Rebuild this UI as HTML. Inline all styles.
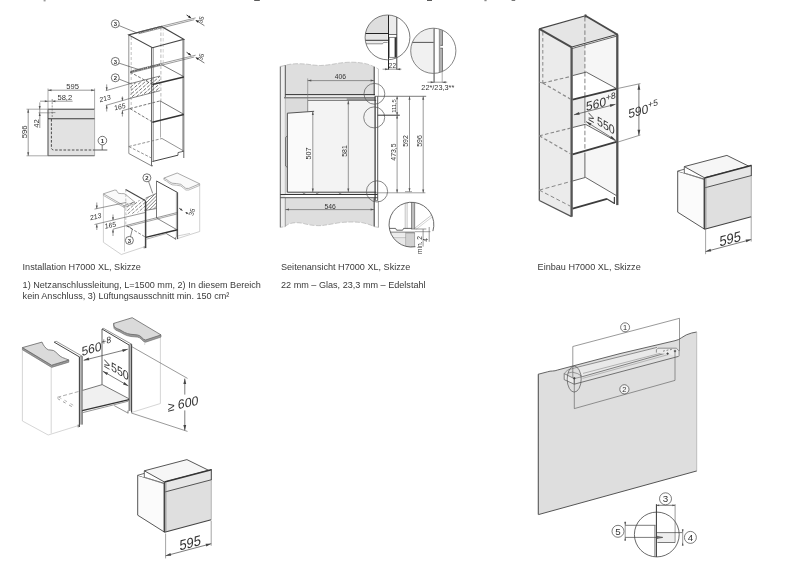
<!DOCTYPE html>
<html><head><meta charset="utf-8"><title>H7000 XL</title>
<style>
html,body{margin:0;padding:0;background:#fff;}
body{width:787px;height:563px;overflow:hidden;font-family:"Liberation Sans",sans-serif;}
svg{display:block;position:absolute;left:0;top:0;will-change:transform;opacity:0.999;}
svg text{font-family:"Liberation Sans",sans-serif;}
.cap{position:absolute;font-family:"Liberation Sans",sans-serif;font-size:9.1px;color:#3a3a3a;white-space:nowrap;line-height:11px;letter-spacing:0px;}
</style></head><body>
<svg width="787" height="563" viewBox="0 0 787 563">

<rect x="43.6" y="0" width="2" height="1.4" fill="#999"/>
<rect x="254.2" y="0" width="5.6" height="0.8" fill="#333"/>
<rect x="427" y="0" width="5" height="0.8" fill="#333"/>
<rect x="484.4" y="0" width="2.2" height="1.2" fill="#888"/>
<rect x="511.6" y="0" width="3.6" height="0.8" fill="#555"/>
<g id="d1">
<rect x="48" y="109.2" width="46.6" height="46.6" fill="#e2e2e2" stroke="none"/>
<line x1="48" y1="109.2" x2="94.6" y2="109.2" stroke="#3a3a3a" stroke-width="1" stroke-linecap="butt"/>
<line x1="48" y1="109.2" x2="48" y2="155.8" stroke="#666" stroke-width="1.2" stroke-linecap="butt"/>
<line x1="94.6" y1="109.2" x2="94.6" y2="155.8" stroke="#999" stroke-width="0.7" stroke-linecap="butt"/>
<line x1="48" y1="155.8" x2="94.6" y2="155.8" stroke="#666" stroke-width="1.1" stroke-linecap="butt"/>
<line x1="48" y1="118.8" x2="94.6" y2="118.8" stroke="#3a3a3a" stroke-width="1.1" stroke-linecap="butt"/>
<path d="M51.4 119 V147.5 Q51.4 150 54 150 H94.6" fill="none" stroke="#3a3a3a" stroke-width="0.9" stroke-dasharray="2.6 1.6" />
<line x1="94.6" y1="150" x2="107.3" y2="150" stroke="#3a3a3a" stroke-width="0.8" stroke-linecap="butt"/>
<line x1="102.2" y1="144.4" x2="102.2" y2="150" stroke="#3a3a3a" stroke-width="0.7" stroke-linecap="butt"/>
<circle cx="102.4" cy="140.6" r="4.3" fill="#fff" stroke="#3a3a3a" stroke-width="0.7"/>
<text transform="translate(102.4,142.832)" font-size="6.2" text-anchor="middle" fill="#333" font-weight="bold" >1</text>
<line x1="48" y1="88.5" x2="48" y2="109" stroke="#555" stroke-width="0.5" stroke-linecap="butt"/>
<line x1="94.6" y1="88.5" x2="94.6" y2="109" stroke="#555" stroke-width="0.5" stroke-linecap="butt"/>
<line x1="48" y1="90.2" x2="94.6" y2="90.2" stroke="#555" stroke-width="0.6" stroke-linecap="butt"/>
<polygon points="94.6,90.2 91.1,91.2 91.1,89.2" fill="#555" stroke="none"/>
<polygon points="48,90.2 51.5,89.2 51.5,91.2" fill="#555" stroke="none"/>
<text transform="translate(72.6,88.9)" font-size="7.6" text-anchor="middle" fill="#333" font-weight="normal" >595</text>
<line x1="40" y1="101.2" x2="72.6" y2="101.2" stroke="#555" stroke-width="0.6" stroke-linecap="butt"/>
<polygon points="48,101.2 44.8,102.2 44.8,100.2" fill="#555" stroke="none"/>
<polygon points="52.2,101.2 55.4,100.2 55.4,102.2" fill="#555" stroke="none"/>
<text transform="translate(64.8,99.8)" font-size="7.6" text-anchor="middle" fill="#333" font-weight="normal" >58,2</text>
<line x1="52.2" y1="99" x2="52.2" y2="118" stroke="#555" stroke-width="0.6" stroke-dasharray="2 1.2" stroke-linecap="butt"/>
<line x1="50.4" y1="112.6" x2="55.4" y2="112.6" stroke="#555" stroke-width="0.6" stroke-linecap="butt"/>
<line x1="26.5" y1="109.2" x2="48" y2="109.2" stroke="#555" stroke-width="0.5" stroke-linecap="butt"/>
<line x1="26.5" y1="155.8" x2="48" y2="155.8" stroke="#555" stroke-width="0.5" stroke-linecap="butt"/>
<line x1="28.2" y1="109.2" x2="28.2" y2="155.8" stroke="#555" stroke-width="0.6" stroke-linecap="butt"/>
<polygon points="28.2,155.8 27.2,152.3 29.2,152.3" fill="#555" stroke="none"/>
<polygon points="28.2,109.2 29.2,112.7 27.2,112.7" fill="#555" stroke="none"/>
<text transform="translate(27.0,131.8) rotate(-90)" font-size="7.7" text-anchor="middle" fill="#333" font-weight="normal" >596</text>
<line x1="39.8" y1="102.4" x2="39.8" y2="128" stroke="#555" stroke-width="0.6" stroke-linecap="butt"/>
<polygon points="39.7,109.2 38.7,106.0 40.7,106.0" fill="#555" stroke="none"/>
<polygon points="39.7,112.8 40.7,116.0 38.7,116.0" fill="#555" stroke="none"/>
<line x1="38.5" y1="112.8" x2="50" y2="112.8" stroke="#555" stroke-width="0.5" stroke-linecap="butt"/>
<text transform="translate(38.8,123.5) rotate(-90)" font-size="7.7" text-anchor="middle" fill="#333" font-weight="normal" >42</text>
<line x1="128.8" y1="35" x2="128.8" y2="153.5" stroke="#777" stroke-width="0.8" stroke-linecap="butt"/>
<line x1="131.2" y1="37" x2="131.2" y2="108" stroke="#999" stroke-width="0.6" stroke-dasharray="3 2" stroke-linecap="butt"/>
<line x1="151.5" y1="47.5" x2="151.5" y2="166" stroke="#444" stroke-width="0.8" stroke-linecap="butt"/>
<line x1="153.20000000000002" y1="47.5" x2="153.20000000000002" y2="161.5" stroke="#555" stroke-width="0.7" stroke-linecap="butt"/>
<line x1="160.9" y1="27" x2="160.9" y2="101" stroke="#777" stroke-width="0.5" stroke-dasharray="3.5 2" stroke-linecap="butt"/>
<line x1="160.5" y1="101" x2="160.5" y2="137.6" stroke="#777" stroke-width="0.6" stroke-linecap="butt"/>
<line x1="163.2" y1="27" x2="163.2" y2="64" stroke="#aaa" stroke-width="0.5" stroke-dasharray="3.5 2" stroke-linecap="butt"/>
<line x1="183.8" y1="39.2" x2="183.8" y2="158" stroke="#555" stroke-width="0.9" stroke-linecap="butt"/>
<line x1="182.5" y1="40" x2="182.5" y2="152" stroke="#888" stroke-width="0.6" stroke-linecap="butt"/>
<polygon points="128.8,34.9 161.4,26.4 183.8,39.2 152.4,47.7" fill="none" stroke="#444" stroke-width="1.1" stroke-linejoin="miter"/>
<line x1="138.4" y1="32.0" x2="195.6" y2="17.9" stroke="#555" stroke-width="0.6" stroke-linecap="butt"/>
<line x1="138.4" y1="33.8" x2="194.3" y2="19.7" stroke="#555" stroke-width="0.6" stroke-linecap="butt"/>
<line x1="186.6" y1="15.0" x2="190.4" y2="17.6" stroke="#333" stroke-width="1.0" stroke-linecap="butt"/>
<polygon points="191.4,18.3 188.13,17.42 189.36,15.6" fill="#222" stroke="none"/>
<line x1="196.4" y1="20.6" x2="204.4" y2="25.7" stroke="#444" stroke-width="0.7" stroke-linecap="butt"/>
<polygon points="195.4,20.0 198.68,20.82 197.48,22.67" fill="#222" stroke="none"/>
<text transform="translate(203.2,20.2) rotate(-76)" font-size="6.2" text-anchor="middle" fill="#333" font-weight="normal" >35</text>
<line x1="130.2" y1="71.2" x2="195.6" y2="55.199999999999996" stroke="#555" stroke-width="0.6" stroke-linecap="butt"/>
<line x1="130.2" y1="73.0" x2="194.3" y2="57.0" stroke="#555" stroke-width="0.6" stroke-linecap="butt"/>
<line x1="186.6" y1="52.3" x2="190.4" y2="54.9" stroke="#333" stroke-width="1.0" stroke-linecap="butt"/>
<polygon points="191.4,55.6 188.13,54.72 189.36,52.9" fill="#222" stroke="none"/>
<line x1="196.4" y1="57.9" x2="204.4" y2="63.0" stroke="#444" stroke-width="0.7" stroke-linecap="butt"/>
<polygon points="195.4,57.3 198.68,58.12 197.48,59.97" fill="#222" stroke="none"/>
<text transform="translate(203.2,57.5) rotate(-76)" font-size="6.2" text-anchor="middle" fill="#333" font-weight="normal" >35</text>
<path d="M131 71.9 L160.9 64.1" fill="none" stroke="#555" stroke-width="1.6" stroke-dasharray="1.2 1.0" />
<path d="M139 32.9 L161.4 27.0" fill="none" stroke="#666" stroke-width="1.3" stroke-dasharray="1.2 1.0" />
<line x1="130" y1="72.1" x2="152.4" y2="84.3" stroke="#666" stroke-width="0.9" stroke-dasharray="3 1.6" stroke-linecap="butt"/>
<line x1="130" y1="72.1" x2="161.4" y2="64.5" stroke="#666" stroke-width="0.9" stroke-dasharray="3 1.6" stroke-linecap="butt"/>
<line x1="161.4" y1="64.5" x2="183.8" y2="76.6" stroke="#555" stroke-width="0.8" stroke-linecap="butt"/>
<line x1="152.4" y1="84.6" x2="183.8" y2="76.9" stroke="#333" stroke-width="1.5" stroke-linecap="butt"/>
<clipPath id="h1"><polygon points="130,83.7 160.1,76 160.1,90.7 130,98.4"/></clipPath>
<g clip-path="url(#h1)">
<line x1="99" y1="100" x2="128.9" y2="74" stroke="#444" stroke-width="0.75" stroke-dasharray="3.4 1.4" stroke-linecap="butt"/>
<line x1="103.2" y1="100" x2="133.1" y2="74" stroke="#444" stroke-width="0.75" stroke-dasharray="3.4 1.4" stroke-linecap="butt"/>
<line x1="107.4" y1="100" x2="137.3" y2="74" stroke="#444" stroke-width="0.75" stroke-dasharray="3.4 1.4" stroke-linecap="butt"/>
<line x1="111.6" y1="100" x2="141.5" y2="74" stroke="#444" stroke-width="0.75" stroke-dasharray="3.4 1.4" stroke-linecap="butt"/>
<line x1="115.8" y1="100" x2="145.7" y2="74" stroke="#444" stroke-width="0.75" stroke-dasharray="3.4 1.4" stroke-linecap="butt"/>
<line x1="120.0" y1="100" x2="149.9" y2="74" stroke="#444" stroke-width="0.75" stroke-dasharray="3.4 1.4" stroke-linecap="butt"/>
<line x1="124.2" y1="100" x2="154.1" y2="74" stroke="#444" stroke-width="0.75" stroke-dasharray="3.4 1.4" stroke-linecap="butt"/>
<line x1="128.4" y1="100" x2="158.3" y2="74" stroke="#444" stroke-width="0.75" stroke-dasharray="3.4 1.4" stroke-linecap="butt"/>
<line x1="132.6" y1="100" x2="162.5" y2="74" stroke="#444" stroke-width="0.75" stroke-dasharray="3.4 1.4" stroke-linecap="butt"/>
<line x1="136.8" y1="100" x2="166.7" y2="74" stroke="#444" stroke-width="0.75" stroke-dasharray="3.4 1.4" stroke-linecap="butt"/>
<line x1="141.0" y1="100" x2="170.9" y2="74" stroke="#444" stroke-width="0.75" stroke-dasharray="3.4 1.4" stroke-linecap="butt"/>
<line x1="145.2" y1="100" x2="175.1" y2="74" stroke="#444" stroke-width="0.75" stroke-dasharray="3.4 1.4" stroke-linecap="butt"/>
<line x1="149.4" y1="100" x2="179.3" y2="74" stroke="#444" stroke-width="0.75" stroke-dasharray="3.4 1.4" stroke-linecap="butt"/>
<line x1="153.6" y1="100" x2="183.5" y2="74" stroke="#444" stroke-width="0.75" stroke-dasharray="3.4 1.4" stroke-linecap="butt"/>
<line x1="157.8" y1="100" x2="187.7" y2="74" stroke="#444" stroke-width="0.75" stroke-dasharray="3.4 1.4" stroke-linecap="butt"/>
<line x1="162.0" y1="100" x2="191.9" y2="74" stroke="#444" stroke-width="0.75" stroke-dasharray="3.4 1.4" stroke-linecap="butt"/>
<line x1="166.2" y1="100" x2="196.1" y2="74" stroke="#444" stroke-width="0.75" stroke-dasharray="3.4 1.4" stroke-linecap="butt"/>
<line x1="170.4" y1="100" x2="200.3" y2="74" stroke="#444" stroke-width="0.75" stroke-dasharray="3.4 1.4" stroke-linecap="butt"/>
<line x1="174.6" y1="100" x2="204.5" y2="74" stroke="#444" stroke-width="0.75" stroke-dasharray="3.4 1.4" stroke-linecap="butt"/>
<line x1="178.8" y1="100" x2="208.7" y2="74" stroke="#444" stroke-width="0.75" stroke-dasharray="3.4 1.4" stroke-linecap="butt"/>
<line x1="183.0" y1="100" x2="212.9" y2="74" stroke="#444" stroke-width="0.75" stroke-dasharray="3.4 1.4" stroke-linecap="butt"/>
<line x1="187.2" y1="100" x2="217.1" y2="74" stroke="#444" stroke-width="0.75" stroke-dasharray="3.4 1.4" stroke-linecap="butt"/>
</g>
<line x1="130" y1="83.7" x2="160.1" y2="76" stroke="#555" stroke-width="0.7" stroke-linecap="butt"/>
<line x1="130" y1="98.4" x2="160.1" y2="90.7" stroke="#555" stroke-width="0.7" stroke-linecap="butt"/>
<line x1="105.8" y1="90.7" x2="130" y2="83.7" stroke="#555" stroke-width="0.6" stroke-linecap="butt"/>
<line x1="105.8" y1="105.4" x2="130" y2="98.4" stroke="#555" stroke-width="0.6" stroke-linecap="butt"/>
<line x1="122" y1="110.8" x2="130" y2="108.6" stroke="#555" stroke-width="0.6" stroke-linecap="butt"/>
<line x1="106.7" y1="84.4" x2="106.7" y2="90.4" stroke="#555" stroke-width="0.6" stroke-linecap="butt"/>
<line x1="106.7" y1="105.2" x2="106.7" y2="111.5" stroke="#555" stroke-width="0.6" stroke-linecap="butt"/>
<polygon points="106.7,90.4 105.7,87.2 107.7,87.2" fill="#555" stroke="none"/>
<polygon points="106.7,105.2 107.7,108.4 105.7,108.4" fill="#555" stroke="none"/>
<text transform="translate(105.4,100.8) rotate(-14) skewX(-8)" font-size="6.9" text-anchor="middle" fill="#333" font-weight="normal" >213</text>
<line x1="122.4" y1="96.5" x2="122.4" y2="100.8" stroke="#555" stroke-width="0.6" stroke-linecap="butt"/>
<polygon points="122.4,100.8 121.4,97.8 123.4,97.8" fill="#555" stroke="none"/>
<line x1="122.4" y1="110.7" x2="122.4" y2="116.5" stroke="#555" stroke-width="0.6" stroke-linecap="butt"/>
<polygon points="122.4,110.7 123.4,113.7 121.4,113.7" fill="#555" stroke="none"/>
<text transform="translate(120.2,109.2) rotate(-14) skewX(-8)" font-size="6.9" text-anchor="middle" fill="#333" font-weight="normal" >165</text>
<line x1="130" y1="108.6" x2="160.1" y2="100.9" stroke="#666" stroke-width="0.9" stroke-dasharray="3 1.6" stroke-linecap="butt"/>
<line x1="130" y1="108.6" x2="152.4" y2="122" stroke="#666" stroke-width="0.9" stroke-dasharray="3 1.6" stroke-linecap="butt"/>
<line x1="160.1" y1="100.9" x2="183.8" y2="114.3" stroke="#555" stroke-width="0.8" stroke-linecap="butt"/>
<line x1="152.4" y1="122.3" x2="183.8" y2="114.6" stroke="#333" stroke-width="1.5" stroke-linecap="butt"/>
<line x1="128.8" y1="146.5" x2="162" y2="138.5" stroke="#777" stroke-width="0.8" stroke-dasharray="3 1.6" stroke-linecap="butt"/>
<line x1="128.8" y1="146.5" x2="152.4" y2="158.5" stroke="#777" stroke-width="0.8" stroke-dasharray="3 1.6" stroke-linecap="butt"/>
<line x1="162" y1="138.5" x2="183.8" y2="151" stroke="#666" stroke-width="0.7" stroke-linecap="butt"/>
<line x1="152.4" y1="161.5" x2="178" y2="155.2" stroke="#444" stroke-width="1.0" stroke-linecap="butt"/>
<line x1="178" y1="155.2" x2="178" y2="152.6" stroke="#444" stroke-width="0.8" stroke-linecap="butt"/>
<line x1="178" y1="152.6" x2="183.8" y2="151.2" stroke="#444" stroke-width="0.8" stroke-linecap="butt"/>
<line x1="128.8" y1="153.5" x2="151.8" y2="166" stroke="#666" stroke-width="0.8" stroke-linecap="butt"/>
<line x1="151.8" y1="166" x2="153.0" y2="165.6" stroke="#555" stroke-width="0.8" stroke-linecap="butt"/>
<line x1="118.6" y1="25.4" x2="137.1" y2="33" stroke="#3a3a3a" stroke-width="0.6" stroke-linecap="butt"/>
<circle cx="115.3" cy="23.8" r="4.0" fill="#fff" stroke="#3a3a3a" stroke-width="0.7"/>
<text transform="translate(115.3,25.924)" font-size="5.9" text-anchor="middle" fill="#333" font-weight="bold" >3</text>
<line x1="118.6" y1="63" x2="139.6" y2="69.8" stroke="#3a3a3a" stroke-width="0.6" stroke-linecap="butt"/>
<circle cx="115.3" cy="61.4" r="4.0" fill="#fff" stroke="#3a3a3a" stroke-width="0.7"/>
<text transform="translate(115.3,63.524)" font-size="5.9" text-anchor="middle" fill="#333" font-weight="bold" >3</text>
<line x1="118.8" y1="79" x2="130" y2="83.4" stroke="#3a3a3a" stroke-width="0.6" stroke-linecap="butt"/>
<circle cx="115.3" cy="77.8" r="4.0" fill="#fff" stroke="#3a3a3a" stroke-width="0.7"/>
<text transform="translate(115.3,79.92399999999999)" font-size="5.9" text-anchor="middle" fill="#333" font-weight="bold" >2</text>
<path d="M103.4 195.5 V242.3 L121.3 254.5 L145 246.6" fill="none" stroke="#bdbdbd" stroke-width="0.7" />
<line x1="124.5" y1="206" x2="124.5" y2="251.5" stroke="#bdbdbd" stroke-width="0.7" stroke-linecap="butt"/>
<path d="M103.4 193.8 L114.6 190.1 Q117 189.6 117.2 191.6 Q117.6 194 121.3 193.6 Q124.6 193.2 125.8 194.6 L134.8 202.1 L123.9 205.7 Z" fill="#fafafa" stroke="#888" stroke-width="0.7" />
<path d="M103.4 193.8 V195.4 L123.9 207.3 L134.8 203.7 V202.1" fill="none" stroke="#888" stroke-width="0.6" />
<line x1="123.9" y1="205.7" x2="123.9" y2="207.3" stroke="#666" stroke-width="0.6" stroke-linecap="butt"/>
<path d="M199.7 185.4 V231.5 L175.3 239.3" fill="none" stroke="#bdbdbd" stroke-width="0.7" />
<line x1="177.6" y1="236" x2="190" y2="233.4" stroke="#bdbdbd" stroke-width="0.7" stroke-linecap="butt"/>
<path d="M163.9 178.1 L177.2 173 L199.7 183.8 L188.8 188.4 Q185.6 189.4 183.6 186.6 Q181.6 183.6 176.6 183.6 Q171.2 183.8 169.2 181.6 Q167 179.4 163.9 178.1 Z" fill="#fafafa" stroke="#888" stroke-width="0.7" />
<path d="M163.9 178.1 V179.7 Q167 181 169.2 183.2 Q171.2 185.4 176.6 185.2 Q181.6 185.2 183.6 188.2 Q185.6 191 188.8 190 L199.7 185.4 V183.8" fill="none" stroke="#888" stroke-width="0.6" />
<clipPath id="h2"><polygon points="126.4,203.4 145.6,198.6 145.6,210.4 126.4,215.2"/></clipPath>
<g clip-path="url(#h2)">
<line x1="99" y1="217" x2="123.15" y2="196" stroke="#555" stroke-width="0.7" stroke-dasharray="3.4 1.4" stroke-linecap="butt"/>
<line x1="103.2" y1="217" x2="127.35" y2="196" stroke="#555" stroke-width="0.7" stroke-dasharray="3.4 1.4" stroke-linecap="butt"/>
<line x1="107.4" y1="217" x2="131.55" y2="196" stroke="#555" stroke-width="0.7" stroke-dasharray="3.4 1.4" stroke-linecap="butt"/>
<line x1="111.6" y1="217" x2="135.75" y2="196" stroke="#555" stroke-width="0.7" stroke-dasharray="3.4 1.4" stroke-linecap="butt"/>
<line x1="115.8" y1="217" x2="139.95" y2="196" stroke="#555" stroke-width="0.7" stroke-dasharray="3.4 1.4" stroke-linecap="butt"/>
<line x1="120.0" y1="217" x2="144.15" y2="196" stroke="#555" stroke-width="0.7" stroke-dasharray="3.4 1.4" stroke-linecap="butt"/>
<line x1="124.2" y1="217" x2="148.35" y2="196" stroke="#555" stroke-width="0.7" stroke-dasharray="3.4 1.4" stroke-linecap="butt"/>
<line x1="128.4" y1="217" x2="152.55" y2="196" stroke="#555" stroke-width="0.7" stroke-dasharray="3.4 1.4" stroke-linecap="butt"/>
<line x1="132.6" y1="217" x2="156.75" y2="196" stroke="#555" stroke-width="0.7" stroke-dasharray="3.4 1.4" stroke-linecap="butt"/>
<line x1="136.8" y1="217" x2="160.95" y2="196" stroke="#555" stroke-width="0.7" stroke-dasharray="3.4 1.4" stroke-linecap="butt"/>
<line x1="141.0" y1="217" x2="165.15" y2="196" stroke="#555" stroke-width="0.7" stroke-dasharray="3.4 1.4" stroke-linecap="butt"/>
<line x1="145.2" y1="217" x2="169.35" y2="196" stroke="#555" stroke-width="0.7" stroke-dasharray="3.4 1.4" stroke-linecap="butt"/>
<line x1="149.4" y1="217" x2="173.55" y2="196" stroke="#555" stroke-width="0.7" stroke-dasharray="3.4 1.4" stroke-linecap="butt"/>
<line x1="153.6" y1="217" x2="177.75" y2="196" stroke="#555" stroke-width="0.7" stroke-dasharray="3.4 1.4" stroke-linecap="butt"/>
<line x1="157.8" y1="217" x2="181.95" y2="196" stroke="#555" stroke-width="0.7" stroke-dasharray="3.4 1.4" stroke-linecap="butt"/>
<line x1="162.0" y1="217" x2="186.15" y2="196" stroke="#555" stroke-width="0.7" stroke-dasharray="3.4 1.4" stroke-linecap="butt"/>
<line x1="166.2" y1="217" x2="190.35" y2="196" stroke="#555" stroke-width="0.7" stroke-dasharray="3.4 1.4" stroke-linecap="butt"/>
<line x1="170.4" y1="217" x2="194.55" y2="196" stroke="#555" stroke-width="0.7" stroke-dasharray="3.4 1.4" stroke-linecap="butt"/>
</g>
<clipPath id="h3"><polygon points="145.6,198.2 156.5,193.4 156.5,208.5 145.6,210.4"/></clipPath>
<g clip-path="url(#h3)">
<line x1="120" y1="212" x2="140.0" y2="192" stroke="#444" stroke-width="0.65" stroke-linecap="butt"/>
<line x1="123.4" y1="212" x2="143.4" y2="192" stroke="#444" stroke-width="0.65" stroke-linecap="butt"/>
<line x1="126.8" y1="212" x2="146.8" y2="192" stroke="#444" stroke-width="0.65" stroke-linecap="butt"/>
<line x1="130.2" y1="212" x2="150.2" y2="192" stroke="#444" stroke-width="0.65" stroke-linecap="butt"/>
<line x1="133.6" y1="212" x2="153.6" y2="192" stroke="#444" stroke-width="0.65" stroke-linecap="butt"/>
<line x1="137.0" y1="212" x2="157.0" y2="192" stroke="#444" stroke-width="0.65" stroke-linecap="butt"/>
<line x1="140.4" y1="212" x2="160.4" y2="192" stroke="#444" stroke-width="0.65" stroke-linecap="butt"/>
<line x1="143.8" y1="212" x2="163.8" y2="192" stroke="#444" stroke-width="0.65" stroke-linecap="butt"/>
<line x1="147.2" y1="212" x2="167.2" y2="192" stroke="#444" stroke-width="0.65" stroke-linecap="butt"/>
<line x1="150.6" y1="212" x2="170.6" y2="192" stroke="#444" stroke-width="0.65" stroke-linecap="butt"/>
<line x1="154.0" y1="212" x2="174.0" y2="192" stroke="#444" stroke-width="0.65" stroke-linecap="butt"/>
<line x1="157.4" y1="212" x2="177.4" y2="192" stroke="#444" stroke-width="0.65" stroke-linecap="butt"/>
<line x1="160.8" y1="212" x2="180.8" y2="192" stroke="#444" stroke-width="0.65" stroke-linecap="butt"/>
<line x1="164.2" y1="212" x2="184.2" y2="192" stroke="#444" stroke-width="0.65" stroke-linecap="butt"/>
<line x1="167.6" y1="212" x2="187.6" y2="192" stroke="#444" stroke-width="0.65" stroke-linecap="butt"/>
<line x1="171.0" y1="212" x2="191.0" y2="192" stroke="#444" stroke-width="0.65" stroke-linecap="butt"/>
<line x1="174.4" y1="212" x2="194.4" y2="192" stroke="#444" stroke-width="0.65" stroke-linecap="butt"/>
<line x1="177.8" y1="212" x2="197.8" y2="192" stroke="#444" stroke-width="0.65" stroke-linecap="butt"/>
</g>
<line x1="145.6" y1="198.2" x2="156.5" y2="193.4" stroke="#555" stroke-width="0.7" stroke-linecap="butt"/>
<line x1="145.6" y1="210.4" x2="156.5" y2="208.5" stroke="#555" stroke-width="0.7" stroke-linecap="butt"/>
<line x1="94.5" y1="209.1" x2="126.4" y2="202.4" stroke="#555" stroke-width="0.6" stroke-linecap="butt"/>
<line x1="94.5" y1="224.5" x2="145.6" y2="212.4" stroke="#555" stroke-width="0.6" stroke-linecap="butt"/>
<line x1="113" y1="229.2" x2="126.4" y2="225.6" stroke="#555" stroke-width="0.6" stroke-linecap="butt"/>
<line x1="126.4" y1="225.4" x2="177.6" y2="212.4" stroke="#555" stroke-width="0.6" stroke-linecap="butt"/>
<line x1="126.4" y1="226.8" x2="177.6" y2="213.8" stroke="#666" stroke-width="0.6" stroke-linecap="butt"/>
<line x1="179.2" y1="208.2" x2="182.4" y2="210.4" stroke="#444" stroke-width="0.9" stroke-linecap="butt"/>
<polygon points="182.6,210.6 179.9,209.93 181.04,208.29" fill="#444" stroke="none"/>
<line x1="188.6" y1="214" x2="186" y2="212.4" stroke="#444" stroke-width="0.9" stroke-linecap="butt"/>
<polygon points="185.2,212 187.9,212.67 186.76,214.31" fill="#444" stroke="none"/>
<text transform="translate(194.2,212.6) rotate(-76)" font-size="6.4" text-anchor="middle" fill="#333" font-weight="normal" >35</text>
<line x1="96.8" y1="202.5" x2="96.8" y2="208.8" stroke="#555" stroke-width="0.6" stroke-linecap="butt"/>
<line x1="96.8" y1="224.2" x2="96.8" y2="230" stroke="#555" stroke-width="0.6" stroke-linecap="butt"/>
<polygon points="96.8,208.8 95.8,205.6 97.8,205.6" fill="#555" stroke="none"/>
<polygon points="96.8,224.2 97.8,227.4 95.8,227.4" fill="#555" stroke="none"/>
<text transform="translate(96.0,219.0) rotate(-12) skewX(-8)" font-size="6.9" text-anchor="middle" fill="#333" font-weight="normal" >213</text>
<line x1="113" y1="214.5" x2="113" y2="220" stroke="#555" stroke-width="0.6" stroke-linecap="butt"/>
<polygon points="113,220.2 112.0,217.2 114.0,217.2" fill="#555" stroke="none"/>
<line x1="113" y1="229.4" x2="113" y2="236" stroke="#555" stroke-width="0.6" stroke-linecap="butt"/>
<polygon points="113,229.4 114.0,232.4 112.0,232.4" fill="#555" stroke="none"/>
<text transform="translate(110.6,227.6) rotate(-12) skewX(-8)" font-size="6.9" text-anchor="middle" fill="#333" font-weight="normal" >165</text>
<line x1="125.6" y1="189.6" x2="145.6" y2="200.8" stroke="#444" stroke-width="1.1" stroke-linecap="butt"/>
<line x1="125.8" y1="189.3" x2="125.8" y2="225.5" stroke="#999" stroke-width="0.6" stroke-dasharray="3 1.6" stroke-linecap="butt"/>
<line x1="145.6" y1="201.0" x2="145.6" y2="248.1" stroke="#444" stroke-width="1.5" stroke-linecap="butt"/>
<line x1="144.2" y1="246.5" x2="144.2" y2="248.4" stroke="#555" stroke-width="0.8" stroke-linecap="butt"/>
<path d="M156.5 181 L177.6 192.5 V239.1" fill="none" stroke="#444" stroke-width="1.0" />
<line x1="176.4" y1="192.2" x2="176.4" y2="237.5" stroke="#666" stroke-width="0.6" stroke-linecap="butt"/>
<line x1="156.5" y1="181" x2="156.5" y2="218" stroke="#555" stroke-width="0.8" stroke-linecap="butt"/>
<line x1="175.4" y1="237.4" x2="175.4" y2="239.6" stroke="#555" stroke-width="0.8" stroke-linecap="butt"/>
<line x1="126.4" y1="225.7" x2="145.6" y2="237.2" stroke="#666" stroke-width="0.8" stroke-dasharray="3 1.6" stroke-linecap="butt"/>
<line x1="145.6" y1="237.4" x2="177.6" y2="229.7" stroke="#333" stroke-width="1.4" stroke-linecap="butt"/>
<line x1="156.5" y1="218" x2="176.4" y2="229.4" stroke="#555" stroke-width="0.7" stroke-linecap="butt"/>
<line x1="166.1" y1="233.4" x2="175.2" y2="238.8" stroke="#555" stroke-width="0.8" stroke-linecap="butt"/>
<line x1="146.4" y1="239.2" x2="166.1" y2="233.6" stroke="#777" stroke-width="0.6" stroke-linecap="butt"/>
<line x1="148.4" y1="181" x2="152.7" y2="193.4" stroke="#3a3a3a" stroke-width="0.6" stroke-linecap="butt"/>
<circle cx="146.9" cy="177.8" r="4.0" fill="#fff" stroke="#3a3a3a" stroke-width="0.7"/>
<text transform="translate(146.9,179.924)" font-size="5.9" text-anchor="middle" fill="#333" font-weight="bold" >2</text>
<line x1="130.4" y1="237" x2="132.4" y2="229" stroke="#3a3a3a" stroke-width="0.6" stroke-linecap="butt"/>
<line x1="132.4" y1="229" x2="127.4" y2="225.8" stroke="#3a3a3a" stroke-width="0.6" stroke-linecap="butt"/>
<circle cx="129.4" cy="240.4" r="4.0" fill="#fff" stroke="#3a3a3a" stroke-width="0.7"/>
<text transform="translate(129.4,242.524)" font-size="5.9" text-anchor="middle" fill="#333" font-weight="bold" >3</text>
</g>
<g id="d2">
<rect x="280.6" y="65" width="4.7" height="154.8" fill="#eeeeee"/>
<rect x="285.3" y="97.8" width="89.8" height="96.7" fill="#e9e9e9"/>
<rect x="285.3" y="97.8" width="22.4" height="15.4" fill="#dbdbdb"/>
<rect x="307.7" y="100.4" width="67.4" height="91.8" fill="#f3f3f3"/>
<polygon points="287.3,113.2 312.8,111.3 312.8,192.2 287.3,192.2" fill="#fafafa" stroke="none" stroke-width="0" stroke-linejoin="miter"/>
<path d="M285.3 65.2 Q290 64 295.9 63.7 Q303 63.6 309.6 64.5 Q315 65.4 320.3 65.5 Q327 65.2 334 64 Q342 62.4 350.8 62.2 Q358 62.2 364.5 63.4 Q370 64.6 374.2 66.8 V94.6 H285.3 Z" fill="#dedede" stroke="none" stroke-width="0" />
<rect x="284" y="94.6" width="91" height="3.2" fill="#ebebeb"/>
<path d="M280.4 66.9 L285.3 65.2 Q290 64 295.9 63.7 Q303 63.6 309.6 64.5 Q315 65.4 320.3 65.5 Q327 65.2 334 64 Q342 62.4 350.8 62.2 Q358 62.2 364.5 63.4 Q370 64.6 374.2 66.8 L378.5 69" fill="none" stroke="#aaa" stroke-width="0.6" stroke-dasharray="5 1.5" />
<path d="M285.3 198 H374.2 V226.6 Q370 224.4 362 222.6 Q352 221.4 340 222.6 Q330 224.4 322 225.6 Q312 226 304 223.6 Q296 221.8 290 223.6 Q287 224.6 285.3 226.4 Z" fill="#dedede" stroke="none" stroke-width="0" />
<rect x="280.6" y="219" width="4.7" height="8.4" fill="#eeeeee"/>
<path d="M378.5 227.4 L374.2 226.6 Q370 224.4 362 222.6 Q352 221.4 340 222.6 Q330 224.4 322 225.6 Q312 226 304 223.6 Q296 221.8 290 223.6 Q287 224.6 285.3 226.4 L280.4 227.4" fill="none" stroke="#aaa" stroke-width="0.6" stroke-dasharray="5 1.5" />
<line x1="280.3" y1="66.5" x2="280.3" y2="227.4" stroke="#555" stroke-width="0.9" stroke-linecap="butt"/>
<line x1="285.3" y1="65.2" x2="285.3" y2="97.2" stroke="#555" stroke-width="1.0" stroke-linecap="butt"/>
<line x1="285.3" y1="97.8" x2="285.3" y2="194.4" stroke="#999" stroke-width="0.6" stroke-linecap="butt"/>
<line x1="285.3" y1="198" x2="285.3" y2="226.4" stroke="#777" stroke-width="0.7" stroke-linecap="butt"/>
<line x1="374.2" y1="66.8" x2="374.2" y2="95.3" stroke="#444" stroke-width="1.1" stroke-linecap="butt"/>
<line x1="374.2" y1="198.2" x2="374.2" y2="226.6" stroke="#444" stroke-width="1.1" stroke-linecap="butt"/>
<line x1="285.3" y1="94.6" x2="375" y2="94.6" stroke="#333" stroke-width="1.0" stroke-linecap="butt"/>
<line x1="284" y1="97.8" x2="375" y2="97.8" stroke="#444" stroke-width="0.9" stroke-linecap="butt"/>
<line x1="346.7" y1="99.1" x2="375" y2="99.1" stroke="#666" stroke-width="1.0" stroke-linecap="butt"/>
<line x1="280.3" y1="194.5" x2="377.6" y2="194.5" stroke="#333" stroke-width="1.1" stroke-linecap="butt"/>
<line x1="280.3" y1="197.7" x2="377.6" y2="197.7" stroke="#444" stroke-width="0.9" stroke-linecap="butt"/>
<line x1="307.7" y1="100.4" x2="376.2" y2="100.4" stroke="#555" stroke-width="0.8" stroke-linecap="butt"/>
<line x1="307.7" y1="100.4" x2="307.7" y2="111.6" stroke="#666" stroke-width="0.7" stroke-linecap="butt"/>
<line x1="287.3" y1="113.2" x2="314.1" y2="111.3" stroke="#444" stroke-width="0.9" stroke-linecap="butt"/>
<line x1="287.3" y1="113.2" x2="287.3" y2="192.2" stroke="#444" stroke-width="1.0" stroke-linecap="butt"/>
<line x1="287.3" y1="192.2" x2="376.2" y2="192.2" stroke="#444" stroke-width="1.0" stroke-linecap="butt"/>
<path d="M287.3 136 L285.6 137.4 V166 L287.3 167.4" fill="none" stroke="#555" stroke-width="0.8" />
<path d="M302.6 192.2 l1 1.5 h1.6 M316 193.7 h1.6 l1 -1.5 M338.6 192.2 l1 1.5 h1.6" fill="none" stroke="#555" stroke-width="0.7" />
<line x1="375.1" y1="96.3" x2="375.1" y2="200.6" stroke="#333" stroke-width="1.2" stroke-linecap="butt"/>
<line x1="377.7" y1="96.3" x2="377.7" y2="200.6" stroke="#444" stroke-width="0.9" stroke-linecap="butt"/>
<line x1="375.1" y1="200.6" x2="377.7" y2="200.6" stroke="#555" stroke-width="0.7" stroke-linecap="butt"/>
<line x1="378.4" y1="69" x2="378.4" y2="96.3" stroke="#aaa" stroke-width="0.7" stroke-linecap="butt"/>
<line x1="378.4" y1="201" x2="378.4" y2="227.4" stroke="#777" stroke-width="0.7" stroke-linecap="butt"/>
<line x1="307.7" y1="78.4" x2="307.7" y2="100.4" stroke="#777" stroke-width="0.6" stroke-linecap="butt"/>
<line x1="307.7" y1="80.6" x2="374.2" y2="80.6" stroke="#555" stroke-width="0.6" stroke-linecap="butt"/>
<polygon points="374.2,80.6 370.6,81.6 370.6,79.6" fill="#555" stroke="none"/>
<polygon points="307.7,80.6 311.3,79.6 311.3,81.6" fill="#555" stroke="none"/>
<text transform="translate(340.3,79.4)" font-size="6.8" text-anchor="middle" fill="#333" font-weight="normal" >406</text>
<line x1="312.8" y1="111.5" x2="312.8" y2="192" stroke="#555" stroke-width="0.6" stroke-linecap="butt"/>
<polygon points="312.8,192 311.8,188.4 313.8,188.4" fill="#555" stroke="none"/>
<polygon points="312.8,111.5 313.8,115.1 311.8,115.1" fill="#555" stroke="none"/>
<text transform="translate(310.9,153.4) rotate(-90)" font-size="7.2" text-anchor="middle" fill="#333" font-weight="normal" >507</text>
<line x1="348.3" y1="100.6" x2="348.3" y2="192" stroke="#555" stroke-width="0.6" stroke-linecap="butt"/>
<polygon points="348.3,192 347.3,188.4 349.3,188.4" fill="#555" stroke="none"/>
<polygon points="348.3,100.6 349.3,104.2 347.3,104.2" fill="#555" stroke="none"/>
<text transform="translate(346.9,151) rotate(-90)" font-size="7.0" text-anchor="middle" fill="#333" font-weight="normal" >581</text>
<line x1="285.4" y1="209.6" x2="374.2" y2="209.6" stroke="#555" stroke-width="0.6" stroke-linecap="butt"/>
<polygon points="374.2,209.6 370.6,210.6 370.6,208.6" fill="#555" stroke="none"/>
<polygon points="285.4,209.6 289.0,208.6 289.0,210.6" fill="#555" stroke="none"/>
<text transform="translate(330.2,208.6)" font-size="6.8" text-anchor="middle" fill="#333" font-weight="normal" >546</text>
<circle cx="374.4" cy="93.8" r="10.4" fill="none" stroke="#555" stroke-width="0.7"/>
<circle cx="374.2" cy="117.4" r="10.5" fill="none" stroke="#555" stroke-width="0.7"/>
<circle cx="377.0" cy="191.4" r="10.6" fill="none" stroke="#555" stroke-width="0.7"/>
<line x1="375" y1="96.3" x2="426.2" y2="96.3" stroke="#444" stroke-width="0.7" stroke-linecap="butt"/>
<line x1="376" y1="192.8" x2="425.4" y2="192.8" stroke="#555" stroke-width="0.55" stroke-linecap="butt"/>
<line x1="377.7" y1="115.2" x2="399.8" y2="115.2" stroke="#333" stroke-width="1.0" stroke-linecap="butt"/>
<line x1="397.1" y1="96.3" x2="397.1" y2="115.2" stroke="#555" stroke-width="0.6" stroke-linecap="butt"/>
<polygon points="397.1,115.2 396.1,112.2 398.1,112.2" fill="#555" stroke="none"/>
<polygon points="397.1,96.3 398.1,99.3 396.1,99.3" fill="#555" stroke="none"/>
<line x1="397.1" y1="115.2" x2="397.1" y2="192.8" stroke="#555" stroke-width="0.6" stroke-linecap="butt"/>
<polygon points="397.1,192.8 396.1,189.4 398.1,189.4" fill="#555" stroke="none"/>
<polygon points="397.1,115.2 398.1,118.6 396.1,118.6" fill="#555" stroke="none"/>
<line x1="409.5" y1="96.3" x2="409.5" y2="191.6" stroke="#555" stroke-width="0.6" stroke-linecap="butt"/>
<polygon points="409.5,191.6 408.5,188.2 410.5,188.2" fill="#555" stroke="none"/>
<polygon points="409.5,96.3 410.5,99.7 408.5,99.7" fill="#555" stroke="none"/>
<line x1="405" y1="191.6" x2="412" y2="191.6" stroke="#555" stroke-width="0.5" stroke-linecap="butt"/>
<line x1="423.2" y1="96.3" x2="423.2" y2="192.8" stroke="#555" stroke-width="0.6" stroke-linecap="butt"/>
<polygon points="423.2,192.8 422.2,189.4 424.2,189.4" fill="#555" stroke="none"/>
<polygon points="423.2,96.3 424.2,99.7 422.2,99.7" fill="#555" stroke="none"/>
<text transform="translate(395.6,106) rotate(-90)" font-size="5.8" text-anchor="middle" fill="#333" font-weight="normal" >111,5</text>
<text transform="translate(395.7,152) rotate(-90)" font-size="6.9" text-anchor="middle" fill="#333" font-weight="normal" >473,5</text>
<text transform="translate(408.0,141) rotate(-90)" font-size="7.0" text-anchor="middle" fill="#333" font-weight="normal" >592</text>
<text transform="translate(421.8,141) rotate(-90)" font-size="7.0" text-anchor="middle" fill="#333" font-weight="normal" >596</text>
<clipPath id="cA"><circle cx="387.5" cy="37.4" r="22.4"/></clipPath>
<g clip-path="url(#cA)">
<rect x="360" y="10" width="60" height="60" fill="#fff"/>
<rect x="360" y="10" width="28.1" height="23.3" fill="#dedede"/>
<rect x="388.8" y="10" width="7.6" height="24" fill="#ececec"/>
<rect x="360" y="34" width="27.6" height="6" fill="#e6e6e6"/>
<rect x="360" y="41" width="23" height="2.8" fill="#ececec"/>
<line x1="360" y1="33.5" x2="388.5" y2="33.5" stroke="#222" stroke-width="1.0" stroke-linecap="butt"/>
<line x1="388.5" y1="34.5" x2="396.8" y2="34.5" stroke="#444" stroke-width="0.8" stroke-linecap="butt"/>
<line x1="360" y1="40.3" x2="388" y2="40.3" stroke="#333" stroke-width="1.0" stroke-linecap="butt"/>
<path d="M360 43.8 H382.6 L383.6 42.4 H387.6" fill="none" stroke="#666" stroke-width="0.7" />
<rect x="389.2" y="37.3" width="7.2" height="20" fill="#fff" stroke="#555" stroke-width="0.7"/>
<line x1="395.4" y1="37.4" x2="395.4" y2="57.3" stroke="#333" stroke-width="1.6" stroke-linecap="butt"/>
</g>
<line x1="388.5" y1="15" x2="388.5" y2="69.6" stroke="#222" stroke-width="1.0" stroke-linecap="butt"/>
<line x1="396.8" y1="17" x2="396.8" y2="69.6" stroke="#333" stroke-width="0.9" stroke-linecap="butt"/>
<circle cx="387.5" cy="37.4" r="22.4" fill="none" stroke="#5a5a5a" stroke-width="0.8"/>
<line x1="382.6" y1="69.2" x2="401.4" y2="69.2" stroke="#555" stroke-width="0.6" stroke-linecap="butt"/>
<polygon points="388.5,69.2 385.1,70.2 385.1,68.2" fill="#555" stroke="none"/>
<polygon points="396.8,69.2 400.2,68.2 400.2,70.2" fill="#555" stroke="none"/>
<text transform="translate(392.4,68.2)" font-size="6.4" text-anchor="middle" fill="#333" font-weight="normal" >22</text>
<clipPath id="cB"><circle cx="433.3" cy="50.8" r="22.6"/></clipPath>
<g clip-path="url(#cB)">
<rect x="405" y="25" width="60" height="60" fill="#fff"/>
<rect x="405" y="25" width="28.6" height="17" fill="#eeeeee"/>
<rect x="405" y="42.4" width="28.6" height="35" fill="#f1f1f1"/>
<line x1="405" y1="42.4" x2="434" y2="42.4" stroke="#555" stroke-width="1.0" stroke-linecap="butt"/>
<rect x="439.3" y="25" width="3.2" height="55" fill="#b0b0b0"/>
<rect x="440.4" y="45.4" width="2.6" height="2.8" fill="#fff"/>
<line x1="439.3" y1="25" x2="439.3" y2="80" stroke="#666" stroke-width="0.6" stroke-linecap="butt"/>
<line x1="442.5" y1="25" x2="442.5" y2="45.4" stroke="#555" stroke-width="0.7" stroke-linecap="butt"/>
<line x1="442.5" y1="48.2" x2="442.5" y2="80" stroke="#555" stroke-width="0.7" stroke-linecap="butt"/>
<line x1="440.4" y1="45.4" x2="442.8" y2="45.4" stroke="#444" stroke-width="0.7" stroke-linecap="butt"/>
<line x1="440.4" y1="48.2" x2="442.8" y2="48.2" stroke="#444" stroke-width="0.7" stroke-linecap="butt"/>
</g>
<line x1="434.1" y1="28.2" x2="434.1" y2="82.4" stroke="#808080" stroke-width="1.5" stroke-linecap="butt"/>
<line x1="442.2" y1="72" x2="442.2" y2="82.4" stroke="#777" stroke-width="0.6" stroke-linecap="butt"/>
<circle cx="433.3" cy="50.8" r="22.6" fill="none" stroke="#666" stroke-width="0.8"/>
<line x1="427.4" y1="82.2" x2="447.2" y2="82.2" stroke="#555" stroke-width="0.6" stroke-linecap="butt"/>
<polygon points="434.1,82.2 430.7,83.2 430.7,81.2" fill="#555" stroke="none"/>
<polygon points="442.2,82.2 445.6,81.2 445.6,83.2" fill="#555" stroke="none"/>
<text transform="translate(437.8,89.8)" font-size="7.3" text-anchor="middle" fill="#333" font-weight="normal" >22*/23,3**</text>
<clipPath id="cC"><circle cx="411.5" cy="224.6" r="22.4"/></clipPath>
<g clip-path="url(#cC)">
<rect x="385" y="200" width="55" height="50" fill="#fff"/>
<line x1="405.2" y1="200" x2="405.2" y2="228.4" stroke="#999" stroke-width="0.6" stroke-linecap="butt"/>
<line x1="407.1" y1="200" x2="407.1" y2="228.4" stroke="#999" stroke-width="0.6" stroke-linecap="butt"/>
<rect x="411.6" y="200" width="3.2" height="29" fill="#bdbdbd" stroke="#555" stroke-width="0.6"/>
<path d="M389 228.4 H395.6 L396.6 230.2 H402.6 L403.6 228.4 H411.6" fill="none" stroke="#444" stroke-width="0.8" />
<line x1="389" y1="232.2" x2="414.8" y2="232.2" stroke="#444" stroke-width="0.8" stroke-linecap="butt"/>
<rect x="389" y="232.8" width="16" height="4" fill="#ececec"/>
<rect x="391" y="238" width="14" height="9" fill="#e8e8e8"/>
<line x1="391" y1="237.6" x2="405.6" y2="237.6" stroke="#888" stroke-width="0.5" stroke-linecap="butt"/>
<rect x="405.8" y="233" width="9" height="14" fill="#d2d2d2" stroke="#777" stroke-width="0.5"/>
<line x1="414.8" y1="228.2" x2="431.4" y2="215.2" stroke="#999" stroke-width="0.55" stroke-linecap="butt"/>
<line x1="416" y1="229.4" x2="432.6" y2="216.6" stroke="#aaa" stroke-width="0.5" stroke-linecap="butt"/>
</g>
<line x1="414.8" y1="229" x2="426.3" y2="229" stroke="#555" stroke-width="0.6" stroke-linecap="butt"/>
<line x1="414.8" y1="231.7" x2="430.4" y2="231.7" stroke="#999" stroke-width="0.9" stroke-linecap="butt"/>
<line x1="423.1" y1="229" x2="423.1" y2="246.6" stroke="#555" stroke-width="0.6" stroke-linecap="butt"/>
<line x1="429.2" y1="227" x2="429.2" y2="241.8" stroke="#555" stroke-width="0.6" stroke-linecap="butt"/>
<path d="M432.9 231.1 A22.4 22.4 0 1 0 415.4 246.7" fill="none" stroke="#444" stroke-width="0.8" />
<text transform="translate(421.8,245) rotate(-90)" font-size="6.6" text-anchor="middle" fill="#333" font-weight="normal" >min. 2</text>
<text transform="translate(427.8,240) rotate(-90)" font-size="6.6" text-anchor="middle" fill="#333" font-weight="normal" >4</text>
</g>
<g id="d3">
<polygon points="539.3,28.9 572.4,47.4 572.4,216.7 539.3,200.5" fill="#ebebeb" stroke="none" stroke-width="0" stroke-linejoin="miter"/>
<polygon points="539.3,28.9 585.5,15.7 618.1,34.7 572.4,47.4" fill="#e5e5e5" stroke="none" stroke-width="0" stroke-linejoin="miter"/>
<polygon points="572.8,48.3 584.9,44.9 584.9,72.4 572.8,75.6" fill="#e4e4e4" stroke="none" stroke-width="0" stroke-linejoin="miter"/>
<polygon points="572.8,100.6 584.9,97.6 584.9,124.4 572.8,127.5" fill="#ebebeb" stroke="none" stroke-width="0" stroke-linejoin="miter"/>
<polygon points="572.8,155.3 584.9,151.8 584.9,177.6 572.8,181" fill="#f2f2f2" stroke="none" stroke-width="0" stroke-linejoin="miter"/>
<polygon points="584.9,44.9 616.2,36.2 616.2,88 586.3,72.1 584.9,72.4" fill="#f6f6f6" stroke="none" stroke-width="0" stroke-linejoin="miter"/>
<polygon points="584.9,97.6 616.2,89.6 616.2,141 585.5,124.3 584.9,124.4" fill="#f6f6f6" stroke="none" stroke-width="0" stroke-linejoin="miter"/>
<polygon points="584.9,151.8 616.2,143 616.2,195 585.5,177.4 584.9,177.6" fill="#f6f6f6" stroke="none" stroke-width="0" stroke-linejoin="miter"/>
<line x1="584.9" y1="17" x2="584.9" y2="72" stroke="#666" stroke-width="0.8" stroke-dasharray="4.5 2.2" stroke-linecap="butt"/>
<line x1="584.9" y1="72" x2="584.9" y2="96" stroke="#666" stroke-width="0.8" stroke-dasharray="4.5 2.2" stroke-linecap="butt"/>
<line x1="584.9" y1="96.6" x2="584.9" y2="123" stroke="#555" stroke-width="0.8" stroke-linecap="butt"/>
<line x1="584.9" y1="124" x2="584.9" y2="150.6" stroke="#666" stroke-width="0.8" stroke-dasharray="4.5 2.2" stroke-linecap="butt"/>
<line x1="584.9" y1="152.6" x2="584.9" y2="177.4" stroke="#555" stroke-width="0.9" stroke-linecap="butt"/>
<line x1="542.8" y1="32" x2="542.8" y2="83" stroke="#888" stroke-width="1.0" stroke-dasharray="3.6 2.4" stroke-linecap="butt"/>
<line x1="539.3" y1="28.9" x2="539.3" y2="200.5" stroke="#555" stroke-width="1.3" stroke-linecap="butt"/>
<line x1="571.6" y1="47.4" x2="571.6" y2="216.7" stroke="#555" stroke-width="2.3" stroke-linecap="butt"/>
<line x1="617.3" y1="34.7" x2="617.3" y2="205.1" stroke="#505050" stroke-width="2.3" stroke-linecap="butt"/>
<line x1="539.3" y1="28.9" x2="585.5" y2="15.7" stroke="#444" stroke-width="1.1" stroke-linecap="butt"/>
<line x1="585.5" y1="15.7" x2="617.8" y2="34.7" stroke="#4a4a4a" stroke-width="1.9" stroke-linecap="butt"/>
<line x1="539.3" y1="28.9" x2="571.8" y2="47.4" stroke="#4a4a4a" stroke-width="1.9" stroke-linecap="butt"/>
<line x1="571.8" y1="47.0" x2="617.8" y2="34.2" stroke="#444" stroke-width="1.0" stroke-linecap="butt"/>
<line x1="571.8" y1="48.6" x2="617.8" y2="35.8" stroke="#555" stroke-width="0.9" stroke-linecap="butt"/>
<line x1="585.5" y1="14.4" x2="585.5" y2="17.4" stroke="#4a4a4a" stroke-width="1.8" stroke-linecap="butt"/>
<line x1="542.8" y1="83" x2="571" y2="76.4" stroke="#888" stroke-width="1.1" stroke-dasharray="3.6 2.2" stroke-linecap="butt"/>
<line x1="572.6" y1="75.6" x2="586.3" y2="72.1" stroke="#555" stroke-width="0.9" stroke-linecap="butt"/>
<line x1="542.8" y1="83" x2="570.6" y2="99.2" stroke="#888" stroke-width="1.2" stroke-dasharray="3.4 2.4" stroke-linecap="butt"/>
<line x1="539.3" y1="82.2" x2="542.8" y2="83" stroke="#888" stroke-width="0.9" stroke-linecap="butt"/>
<line x1="586.3" y1="72.1" x2="616.6" y2="88.6" stroke="#555" stroke-width="0.9" stroke-linecap="butt"/>
<line x1="572.6" y1="99.6" x2="616.4" y2="88.9" stroke="#3c3c3c" stroke-width="1.9" stroke-linecap="butt"/>
<line x1="539.3" y1="135.8" x2="571" y2="128.0" stroke="#888" stroke-width="1.1" stroke-dasharray="3.6 2.2" stroke-linecap="butt"/>
<line x1="572.6" y1="127.5" x2="585.5" y2="124.3" stroke="#555" stroke-width="0.9" stroke-linecap="butt"/>
<line x1="539.3" y1="135.8" x2="570.6" y2="153.8" stroke="#888" stroke-width="1.2" stroke-dasharray="3.4 2.4" stroke-linecap="butt"/>
<line x1="585.5" y1="124.3" x2="616.6" y2="141.4" stroke="#555" stroke-width="0.9" stroke-linecap="butt"/>
<line x1="572.6" y1="154.3" x2="616.4" y2="141.8" stroke="#3c3c3c" stroke-width="1.9" stroke-linecap="butt"/>
<line x1="539.3" y1="190.1" x2="571" y2="181.4" stroke="#888" stroke-width="1.0" stroke-dasharray="4 2.4" stroke-linecap="butt"/>
<line x1="572.6" y1="181" x2="585.5" y2="177.4" stroke="#555" stroke-width="0.9" stroke-linecap="butt"/>
<line x1="539.3" y1="190.1" x2="570.6" y2="206.3" stroke="#888" stroke-width="1.0" stroke-dasharray="4 2.4" stroke-linecap="butt"/>
<line x1="585.5" y1="177.4" x2="616.6" y2="195.7" stroke="#555" stroke-width="0.9" stroke-linecap="butt"/>
<line x1="572.6" y1="208.6" x2="607" y2="198.9" stroke="#3c3c3c" stroke-width="1.7" stroke-linecap="butt"/>
<path d="M606.7 198.8 L614.4 203.4 M614.4 197 V204" fill="none" stroke="#444" stroke-width="1.2" />
<line x1="539.3" y1="200.5" x2="571.6" y2="216.7" stroke="#555" stroke-width="1.3" stroke-linecap="butt"/>
<line x1="618.1" y1="88.4" x2="640.4" y2="83.6" stroke="#555" stroke-width="0.6" stroke-linecap="butt"/>
<line x1="618.1" y1="142" x2="640.4" y2="135" stroke="#555" stroke-width="0.6" stroke-linecap="butt"/>
<line x1="638.9" y1="84.2" x2="638.9" y2="135.4" stroke="#444" stroke-width="0.7" stroke-linecap="butt"/>
<polygon points="638.9,135.4 637.5,129.8 640.3,129.8" fill="#444" stroke="none"/>
<polygon points="638.9,84.2 640.3,89.8 637.5,89.8" fill="#444" stroke="none"/>
<text transform="translate(628.4,118.2) rotate(-15) skewX(-14)" font-size="12.4" text-anchor="start" fill="#333">590<tspan dy="-5" font-size="8.8">+5</tspan></text>
<line x1="573.9" y1="114.8" x2="615.5" y2="104.3" stroke="#444" stroke-width="0.7" stroke-linecap="butt"/>
<polygon points="615.5,104.3 610.41,107.03 609.73,104.31" fill="#444" stroke="none"/>
<polygon points="573.9,114.8 578.99,112.07 579.67,114.79" fill="#444" stroke="none"/>
<text transform="translate(586.1,110.9) rotate(-14.5) skewX(-14)" font-size="12.4" text-anchor="start" fill="#333">560<tspan dy="-4.8" font-size="8.8">+8</tspan></text>
<line x1="586.1" y1="121.6" x2="615.5" y2="140.1" stroke="#444" stroke-width="0.7" stroke-linecap="butt"/>
<polygon points="615.5,140.1 610.01,138.3 611.51,135.93" fill="#444" stroke="none"/>
<polygon points="586.1,121.6 591.59,123.4 590.09,125.77" fill="#444" stroke="none"/>
<text transform="translate(588.2,119.7) skewY(30) scale(0.86,1)" font-size="12.4" text-anchor="start" fill="#333">≥</text>
<text transform="translate(597.0,124.6) skewY(30) scale(0.86,1)" font-size="12.4" text-anchor="start" fill="#333">550</text>
<g transform="translate(0,0)">
<polygon points="677.7,171.1 704.3,179.2 704.3,229 677.7,212.2" fill="#fbfbfb" stroke="#444" stroke-width="0.9" stroke-linejoin="miter"/>
<polygon points="677.7,171.1 684.3,169.2 684.3,173.2 704.3,179.2" fill="#fff" stroke="none" stroke-width="0" stroke-linejoin="miter"/>
<polygon points="684.3,166.6 726.9,155.4 748.8,166.2 704.5,177.8" fill="#f6f6f6" stroke="#444" stroke-width="0.9" stroke-linejoin="miter"/>
<line x1="677.7" y1="171.1" x2="684.3" y2="169.2" stroke="#444" stroke-width="0.8" stroke-linecap="butt"/>
<line x1="684.3" y1="166.6" x2="684.3" y2="173.2" stroke="#444" stroke-width="0.8" stroke-linecap="butt"/>
<line x1="684.3" y1="173.2" x2="704.3" y2="179.6" stroke="#888" stroke-width="0.6" stroke-linecap="butt"/>
<polygon points="704.5,177.9 751.2,165.6 751.2,216.7 704.5,229.3" fill="#dfdfdf" stroke="none" stroke-width="0" stroke-linejoin="miter"/>
<polygon points="704.5,177.9 751.2,165.6 751.2,175.6 704.5,187.7" fill="#e6e6e6" stroke="none" stroke-width="0" stroke-linejoin="miter"/>
<line x1="704.5" y1="177.9" x2="751.2" y2="165.6" stroke="#333" stroke-width="1.5" stroke-linecap="butt"/>
<line x1="705.2" y1="187.7" x2="751.2" y2="175.6" stroke="#444" stroke-width="0.9" stroke-linecap="butt"/>
<line x1="704.5" y1="177.9" x2="704.5" y2="229.3" stroke="#444" stroke-width="1.6" stroke-linecap="butt"/>
<line x1="706.1" y1="178.4" x2="706.1" y2="228.8" stroke="#888" stroke-width="0.6" stroke-linecap="butt"/>
<line x1="704.5" y1="229.3" x2="751.2" y2="216.7" stroke="#444" stroke-width="1.1" stroke-linecap="butt"/>
<line x1="751.3" y1="164.8" x2="751.3" y2="176" stroke="#444" stroke-width="1.0" stroke-linecap="butt"/>
<line x1="751.3" y1="176" x2="751.3" y2="216.7" stroke="#999" stroke-width="0.7" stroke-linecap="butt"/>
<line x1="705.6" y1="229.3" x2="705.6" y2="254.2" stroke="#666" stroke-width="0.6" stroke-linecap="butt"/>
<line x1="751.2" y1="216.7" x2="751.2" y2="241.6" stroke="#666" stroke-width="0.6" stroke-linecap="butt"/>
<line x1="705.6" y1="251.6" x2="751.2" y2="239.5" stroke="#444" stroke-width="0.7" stroke-linecap="butt"/>
<polygon points="751.2,239.5 746.34,242.24 745.62,239.53" fill="#444" stroke="none"/>
<polygon points="705.6,251.6 710.46,248.86 711.18,251.57" fill="#444" stroke="none"/>
<text transform="translate(730.2,243.6) skewY(-14.5) scale(0.9,1)" font-size="14.4" text-anchor="middle" fill="#333">595</text>
</g>
</g>
<g id="d4">
<path d="M22.4 350 V421 L48.2 435 L79 425.4" fill="none" stroke="#c4c4c4" stroke-width="0.7" />
<line x1="51.2" y1="367.6" x2="51.2" y2="433.4" stroke="#c4c4c4" stroke-width="0.7" stroke-linecap="butt"/>
<path d="M160.4 337.4 V403.5 L131.8 412.4" fill="none" stroke="#c4c4c4" stroke-width="0.7" />
<line x1="144.7" y1="341" x2="144.7" y2="345" stroke="#c4c4c4" stroke-width="0.6" stroke-linecap="butt"/>
<path d="M22.4 349.8 L51.6 367.4 L68.8 362.2 V360 L51.6 365.2 L22.4 347.6 Z" fill="#9a9a9a" stroke="#666" stroke-width="0.6" />
<path d="M22.4 347.6 L42 342.1 Q43.4 345.4 44.6 346.6 Q46.4 349.2 48.4 349.8 Q51 350 53.5 350.5 Q56 352 58 354.3 Q60 356.4 62.4 357.5 Q65.4 358.6 68.8 360 L51.6 365.2 Z" fill="#dadada" stroke="#666" stroke-width="0.8" />
<path d="M161 334.9 V337.1 L145.6 342.2 Q143.4 341.8 141.8 339.7 Q139.8 337.4 137.3 337.1 Q134 336.8 130.9 336.5 Q127.4 336.0 124.5 334.6 Q122 333.2 120 332.0 Q117.6 331.0 115.6 330.1 Q113.4 328.8 113.7 325.6 V323.4  L113.7 323.4 Z" fill="#9a9a9a" stroke="#666" stroke-width="0.6" />
<path d="M113.7 323.4 L132.2 317.7 L161 334.9 L145.6 340 Q143.4 339.6 141.8 337.5 Q139.8 335.2 137.3 334.9 Q134 334.6 130.9 334.3 Q127.4 333.8 124.5 332.4 Q122 331 120 329.8 Q117.6 328.8 115.6 327.9 Q113.4 326.6 113.7 323.4 Z" fill="#dadada" stroke="#666" stroke-width="0.8" />
<line x1="54.1" y1="342.1" x2="79.4" y2="356.9" stroke="#444" stroke-width="1.0" stroke-linecap="butt"/>
<line x1="56.4" y1="341.4" x2="82.2" y2="356.2" stroke="#666" stroke-width="0.7" stroke-linecap="butt"/>
<line x1="54.1" y1="342.1" x2="56.4" y2="341.4" stroke="#555" stroke-width="0.7" stroke-linecap="butt"/>
<line x1="79.4" y1="356.9" x2="82.2" y2="356.2" stroke="#555" stroke-width="0.7" stroke-linecap="butt"/>
<rect x="79.4" y="356.6" width="2.8" height="68" fill="#b8b8b8"/>
<line x1="79.4" y1="356.9" x2="79.4" y2="426.9" stroke="#444" stroke-width="1.1" stroke-linecap="butt"/>
<line x1="82.2" y1="356.2" x2="82.2" y2="424.6" stroke="#555" stroke-width="0.9" stroke-linecap="butt"/>
<line x1="78.2" y1="424.6" x2="78.2" y2="427.4" stroke="#555" stroke-width="0.8" stroke-linecap="butt"/>
<line x1="102.0" y1="329" x2="129.1" y2="345.0" stroke="#444" stroke-width="1.0" stroke-linecap="butt"/>
<line x1="103.6" y1="328.4" x2="131.6" y2="344.2" stroke="#666" stroke-width="0.7" stroke-linecap="butt"/>
<line x1="102.0" y1="329" x2="103.6" y2="328.4" stroke="#555" stroke-width="0.7" stroke-linecap="butt"/>
<line x1="129.1" y1="345.0" x2="131.6" y2="344.2" stroke="#555" stroke-width="0.7" stroke-linecap="butt"/>
<rect x="129.1" y="344.8" width="2.5" height="66" fill="#b8b8b8"/>
<line x1="129.1" y1="345.0" x2="129.1" y2="411" stroke="#555" stroke-width="0.9" stroke-linecap="butt"/>
<line x1="131.6" y1="344.2" x2="131.6" y2="412.4" stroke="#444" stroke-width="1.1" stroke-linecap="butt"/>
<line x1="102.0" y1="329" x2="102.0" y2="384.8" stroke="#555" stroke-width="0.9" stroke-linecap="butt"/>
<line x1="128" y1="410.6" x2="128" y2="413.2" stroke="#555" stroke-width="0.8" stroke-linecap="butt"/>
<polygon points="82.8,390.4 102.2,384.6 128.9,399 82.8,410.4" fill="#f0f0f0" stroke="none" stroke-width="0" stroke-linejoin="miter"/>
<line x1="82.2" y1="410.6" x2="129.1" y2="399.6" stroke="#333" stroke-width="1.4" stroke-linecap="butt"/>
<line x1="82.6" y1="390.4" x2="102.2" y2="384.6" stroke="#555" stroke-width="0.8" stroke-linecap="butt"/>
<line x1="102.2" y1="384.6" x2="129.1" y2="398.8" stroke="#555" stroke-width="0.8" stroke-linecap="butt"/>
<line x1="82.8" y1="412.6" x2="128.2" y2="401.2" stroke="#666" stroke-width="0.7" stroke-linecap="butt"/>
<line x1="114.2" y1="405.6" x2="128.2" y2="413.2" stroke="#666" stroke-width="0.7" stroke-linecap="butt"/>
<line x1="57.3" y1="397.3" x2="79" y2="391.4" stroke="#888" stroke-width="0.7" stroke-dasharray="4 2" stroke-linecap="butt"/>
<path d="M57.6 398.6 l2.4 1.4 M63 401.6 l2.6 1.5 M69 405 l2.8 1.6" fill="none" stroke="#888" stroke-width="0.8" />
<path d="M59 397.2 l2.4 1.4 M64.4 400.2 l2.6 1.5 M70.4 403.6 l2.8 1.6" fill="none" stroke="#999" stroke-width="0.7" />
<line x1="83.7" y1="360.3" x2="127.8" y2="349.2" stroke="#444" stroke-width="0.7" stroke-linecap="butt"/>
<polygon points="127.8,349.2 122.91,351.88 122.22,349.16" fill="#444" stroke="none"/>
<polygon points="83.7,360.3 88.59,357.62 89.28,360.34" fill="#444" stroke="none"/>
<text transform="translate(81.7,355.9) rotate(-15.5) skewX(-14)" font-size="12.4" text-anchor="start" fill="#333">560<tspan dy="-5" font-size="8.8">+8</tspan></text>
<line x1="102.8" y1="371.2" x2="128.4" y2="385.9" stroke="#444" stroke-width="0.7" stroke-linecap="butt"/>
<polygon points="128.4,385.9 123.02,384.43 124.41,382.0" fill="#444" stroke="none"/>
<polygon points="102.8,371.2 108.18,372.67 106.79,375.1" fill="#444" stroke="none"/>
<text transform="translate(104.0,366.4) skewY(31) scale(0.86,1)" font-size="12.4" text-anchor="start" fill="#333">≥</text>
<text transform="translate(111.0,370.2) skewY(31) scale(0.86,1)" font-size="12.4" text-anchor="start" fill="#333">550</text>
<line x1="131.3" y1="346.4" x2="187.5" y2="378.4" stroke="#555" stroke-width="0.6" stroke-linecap="butt"/>
<line x1="131.3" y1="413" x2="187.5" y2="431.4" stroke="#555" stroke-width="0.6" stroke-linecap="butt"/>
<line x1="184.8" y1="378.6" x2="184.8" y2="394.6" stroke="#444" stroke-width="0.7" stroke-linecap="butt"/>
<line x1="184.8" y1="410.4" x2="184.8" y2="430.4" stroke="#444" stroke-width="0.7" stroke-linecap="butt"/>
<polygon points="184.8,378.6 186.2,384.0 183.4,384.0" fill="#444" stroke="none"/>
<polygon points="184.8,430.4 183.4,425.0 186.2,425.0" fill="#444" stroke="none"/>
<text transform="translate(167.7,411.7) rotate(-13) skewX(-14)" font-size="12.6" text-anchor="start" fill="#333">≥ 600</text>
<g transform="translate(-540,304.2)">
<polygon points="677.7,171.1 704.3,179.2 704.3,227.8 677.7,211.0" fill="#fbfbfb" stroke="#444" stroke-width="0.9" stroke-linejoin="miter"/>
<polygon points="677.7,171.1 684.3,169.2 684.3,173.2 704.3,179.2" fill="#fff" stroke="none" stroke-width="0" stroke-linejoin="miter"/>
<polygon points="684.3,166.6 726.9,155.4 748.8,166.2 704.5,177.8" fill="#f6f6f6" stroke="#444" stroke-width="0.9" stroke-linejoin="miter"/>
<line x1="677.7" y1="171.1" x2="684.3" y2="169.2" stroke="#444" stroke-width="0.8" stroke-linecap="butt"/>
<line x1="684.3" y1="166.6" x2="684.3" y2="173.2" stroke="#444" stroke-width="0.8" stroke-linecap="butt"/>
<line x1="684.3" y1="173.2" x2="704.3" y2="179.6" stroke="#888" stroke-width="0.6" stroke-linecap="butt"/>
<polygon points="704.5,177.9 751.2,165.6 751.2,215.5 704.5,228.10000000000002" fill="#dfdfdf" stroke="none" stroke-width="0" stroke-linejoin="miter"/>
<polygon points="704.5,177.9 751.2,165.6 751.2,175.6 704.5,187.7" fill="#e6e6e6" stroke="none" stroke-width="0" stroke-linejoin="miter"/>
<line x1="704.5" y1="177.9" x2="751.2" y2="165.6" stroke="#333" stroke-width="1.5" stroke-linecap="butt"/>
<line x1="705.2" y1="187.7" x2="751.2" y2="175.6" stroke="#444" stroke-width="0.9" stroke-linecap="butt"/>
<line x1="704.5" y1="177.9" x2="704.5" y2="228.10000000000002" stroke="#444" stroke-width="1.6" stroke-linecap="butt"/>
<line x1="706.1" y1="178.4" x2="706.1" y2="227.60000000000002" stroke="#888" stroke-width="0.6" stroke-linecap="butt"/>
<line x1="704.5" y1="228.10000000000002" x2="751.2" y2="215.5" stroke="#444" stroke-width="1.1" stroke-linecap="butt"/>
<line x1="751.3" y1="164.8" x2="751.3" y2="176" stroke="#444" stroke-width="1.0" stroke-linecap="butt"/>
<line x1="751.3" y1="176" x2="751.3" y2="215.5" stroke="#999" stroke-width="0.7" stroke-linecap="butt"/>
<line x1="705.6" y1="229.3" x2="705.6" y2="254.2" stroke="#666" stroke-width="0.6" stroke-linecap="butt"/>
<line x1="751.2" y1="216.7" x2="751.2" y2="241.6" stroke="#666" stroke-width="0.6" stroke-linecap="butt"/>
<line x1="705.6" y1="251.6" x2="751.2" y2="239.5" stroke="#444" stroke-width="0.7" stroke-linecap="butt"/>
<polygon points="751.2,239.5 746.34,242.24 745.62,239.53" fill="#444" stroke="none"/>
<polygon points="705.6,251.6 710.46,248.86 711.18,251.57" fill="#444" stroke="none"/>
<text transform="translate(730.2,243.6) skewY(-14.5) scale(0.9,1)" font-size="14.4" text-anchor="middle" fill="#333">595</text>
</g>
</g>
<g id="d5">
<path d="M538 374.3 L547.6 371.8 Q550 371 552.6 371 Q555 371 557.6 370 L620 353.6 L675 340.7 Q679 339.8 681.4 337.8 Q686 334.4 691.6 333 L696.7 332 V470.9 L538.4 514.6 Z" fill="#dedede" stroke="none" stroke-width="0" />
<path d="M538 374.3 L547.6 371.8 Q550 371 552.6 371 Q555 371 557.6 370 L620 353.6 L675 340.7 Q679 339.8 681.4 337.8 Q686 334.4 691.6 333 L696.7 332" fill="none" stroke="#555" stroke-width="0.9" />
<line x1="538.3" y1="374.3" x2="538.3" y2="514.6" stroke="#555" stroke-width="1.1" stroke-linecap="butt"/>
<line x1="538.4" y1="514.6" x2="696.9" y2="470.9" stroke="#555" stroke-width="1.0" stroke-linecap="butt"/>
<line x1="696.7" y1="332" x2="696.7" y2="470.7" stroke="#aaa" stroke-width="0.7" stroke-linecap="butt"/>
<polygon points="577.4,367.2 657,347.4 676,350.2 582.5,376.6" fill="#e9e9e9" stroke="none" stroke-width="0" stroke-linejoin="miter"/>
<polygon points="582.5,376.6 676,350.2 678.8,356.3 574.2,384.2 574.2,378.6" fill="#e2e2e2" stroke="none" stroke-width="0" stroke-linejoin="miter"/>
<line x1="577.4" y1="367.2" x2="657" y2="347.4" stroke="#666" stroke-width="0.7" stroke-linecap="butt"/>
<line x1="583" y1="373.4" x2="662.2" y2="352.8" stroke="#888" stroke-width="0.6" stroke-linecap="butt"/>
<line x1="582.5" y1="376.6" x2="676" y2="350.2" stroke="#555" stroke-width="0.7" stroke-linecap="butt"/>
<line x1="582.5" y1="378.4" x2="676" y2="352.4" stroke="#888" stroke-width="0.5" stroke-linecap="butt"/>
<line x1="574.2" y1="384.2" x2="678.8" y2="356.3" stroke="#555" stroke-width="0.8" stroke-linecap="butt"/>
<polygon points="564.2,373.6 574.2,378.6 574.2,384.2 564.2,379.6" fill="#ececec" stroke="#555" stroke-width="0.7" stroke-linejoin="miter"/>
<path d="M564.2 373.6 L567.6 370 L577.4 367.2 M574.2 378.6 L582.5 376.6 M568 373 Q572 371 577.6 373.6 L582.5 376.6" fill="none" stroke="#666" stroke-width="0.6" />
<path d="M656.4 352.6 V349.8 L658 348.2 L676.3 348.2 L679.1 350.9 V356.2" fill="#ececec" stroke="#666" stroke-width="0.7" />
<path d="M663 351.2 l1.8 -0.5 M666.6 350.4 l1.8 -0.5 M670 349.8 l1.8 -0.5" fill="none" stroke="#555" stroke-width="0.7" />
<ellipse cx="574.2" cy="379.1" rx="7" ry="13" fill="none" stroke="#555" stroke-width="0.7"/>
<line x1="572.8" y1="346.5" x2="572.8" y2="377.4" stroke="#555" stroke-width="0.6" stroke-linecap="butt"/>
<line x1="679.5" y1="318.3" x2="679.5" y2="351" stroke="#555" stroke-width="0.6" stroke-linecap="butt"/>
<line x1="572.8" y1="346.5" x2="679.5" y2="318.3" stroke="#555" stroke-width="0.6" stroke-linecap="butt"/>
<circle cx="625.1" cy="327.3" r="4.5" fill="#fff" stroke="#444" stroke-width="0.7"/>
<text transform="translate(625.1,329.964)" font-size="7.4" text-anchor="middle" fill="#333" font-weight="normal" >1</text>
<line x1="574.3" y1="378.6" x2="574.3" y2="408.6" stroke="#555" stroke-width="0.6" stroke-linecap="butt"/>
<line x1="675" y1="351" x2="675" y2="380.4" stroke="#555" stroke-width="0.6" stroke-linecap="butt"/>
<line x1="574.3" y1="408.6" x2="675" y2="380.4" stroke="#555" stroke-width="0.6" stroke-linecap="butt"/>
<circle cx="624.4" cy="389.3" r="4.6" fill="#f4f4f4" stroke="#444" stroke-width="0.7"/>
<text transform="translate(624.4,391.964)" font-size="7.4" text-anchor="middle" fill="#333" font-weight="normal" >2</text>
<path d="M573.1 378.2 h2.4 M574.3 377 v2.4 M673.8 351 h2.4 M675 349.8 v2.4 M666.4 353.6 h2.4 M667.6 352.4 v2.4" fill="none" stroke="#333" stroke-width="0.8" />
<rect x="657" y="532.8" width="18" height="9.6" fill="#efefef"/>
<circle cx="656.8" cy="534.5" r="22.4" fill="none" stroke="#444" stroke-width="0.8"/>
<line x1="654.9" y1="525.3" x2="654.9" y2="556.6" stroke="#555" stroke-width="0.8" stroke-linecap="butt"/>
<line x1="656.4" y1="504.2" x2="656.4" y2="556.9" stroke="#333" stroke-width="1.0" stroke-linecap="butt"/>
<line x1="675.1" y1="504.2" x2="675.1" y2="542.5" stroke="#555" stroke-width="0.6" stroke-linecap="butt"/>
<line x1="656.4" y1="505.3" x2="675.1" y2="505.3" stroke="#444" stroke-width="0.7" stroke-linecap="butt"/>
<polygon points="656.4,505.3 659.2,504.4 659.2,506.2" fill="#555" stroke="none"/>
<polygon points="675.1,505.3 672.3,506.2 672.3,504.4" fill="#555" stroke="none"/>
<circle cx="665.5" cy="498.8" r="6.0" fill="#fff" stroke="#444" stroke-width="0.7"/>
<text transform="translate(665.5,502.32800000000003)" font-size="9.8" text-anchor="middle" fill="#333" font-weight="normal" >3</text>
<line x1="625.2" y1="521.4" x2="625.2" y2="540.8" stroke="#555" stroke-width="0.6" stroke-linecap="butt"/>
<polygon points="625.2,525.3 624.3,522.1 626.1,522.1" fill="#555" stroke="none"/>
<polygon points="625.2,537.4 626.1,540.6 624.3,540.6" fill="#555" stroke="none"/>
<line x1="625.2" y1="525.3" x2="655.5" y2="525.3" stroke="#444" stroke-width="0.7" stroke-linecap="butt"/>
<line x1="625.2" y1="537.4" x2="662.5" y2="537.4" stroke="#444" stroke-width="0.7" stroke-linecap="butt"/>
<circle cx="618" cy="531.3" r="6.0" fill="#fff" stroke="#444" stroke-width="0.7"/>
<text transform="translate(618,534.828)" font-size="9.8" text-anchor="middle" fill="#333" font-weight="normal" >5</text>
<line x1="682.7" y1="529" x2="682.7" y2="545.8" stroke="#555" stroke-width="0.6" stroke-linecap="butt"/>
<polygon points="682.7,532.6 681.8,529.6 683.6,529.6" fill="#555" stroke="none"/>
<polygon points="682.7,542.5 683.6,545.5 681.8,545.5" fill="#555" stroke="none"/>
<line x1="656.4" y1="532.6" x2="682.4" y2="532.6" stroke="#444" stroke-width="0.7" stroke-linecap="butt"/>
<line x1="657.4" y1="542.5" x2="675.1" y2="542.5" stroke="#444" stroke-width="0.7" stroke-linecap="butt"/>
<circle cx="690.4" cy="537.4" r="6.0" fill="#fff" stroke="#444" stroke-width="0.7"/>
<text transform="translate(690.4,540.928)" font-size="9.8" text-anchor="middle" fill="#333" font-weight="normal" >4</text>
<path d="M657 536.2 L662.8 537.4 L657 538.6 Z" fill="#777" stroke="#444" stroke-width="0.5" />
</g>
</svg>
<div class="cap" style="left:22.6px;top:262.2px">Installation H7000 XL, Skizze</div>
<div class="cap" style="left:22.6px;top:279.9px">1) Netzanschlussleitung, L=1500 mm, 2) In diesem Bereich<br>kein Anschluss, 3) Lüftungsausschnitt min. 150 cm²</div>
<div class="cap" style="left:281px;top:262.2px">Seitenansicht H7000 XL, Skizze</div>
<div class="cap" style="left:281px;top:279.9px">22 mm – Glas, 23,3 mm – Edelstahl</div>
<div class="cap" style="left:537.6px;top:262.2px">Einbau H7000 XL, Skizze</div>
</body></html>
